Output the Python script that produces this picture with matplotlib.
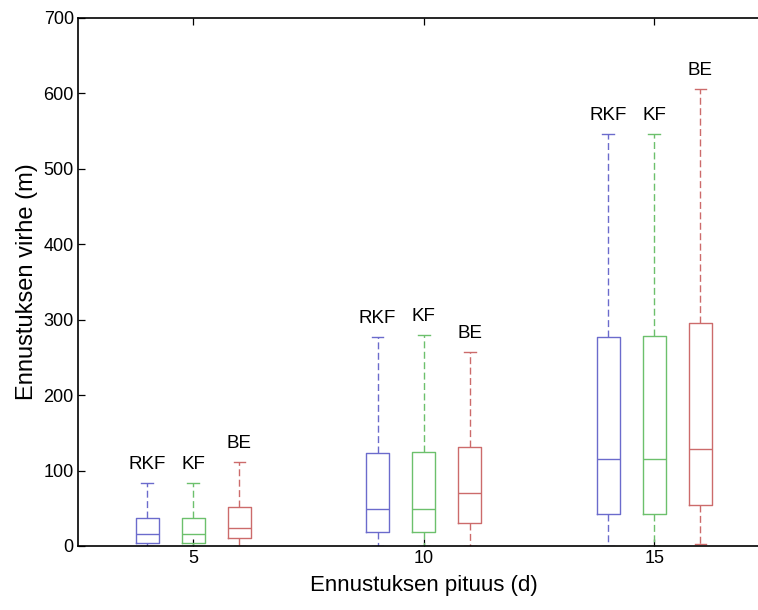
import matplotlib
matplotlib.use("Agg")
import matplotlib.pyplot as plt

plt.rcParams["font.family"] = ["Liberation Sans", "DejaVu Sans"]

# ennustuspituudet (d) ja menetelmat
horizons = [5, 10, 15]
methods = ["RKF", "KF", "BE"]
colors = ["#6b6bcc", "#6cc06c", "#cc6b6b"]
offsets = [-1, 0, 1]

# laatikkokuvion tunnusluvut: rivi = menetelma, sarake = ennustuspituus
whislo = [[0, 0, 0], [0, 0, 0], [0, 0, 3]]
q1 = [[4, 18, 43], [4, 18, 43], [10, 31, 54]]
med = [[15.5, 49, 116], [15.5, 48.6, 116], [23.5, 70, 128]]
q3 = [[37, 123.5, 277], [37, 124.5, 278.5], [51.5, 131, 295]]
whishi = [[84, 277.5, 546], [84, 279.5, 546], [112, 257, 606]]

fig = plt.figure(figsize=(7.58, 6.10), dpi=100)
ax = fig.add_axes([78 / 758, 64 / 610, 691.5 / 758, 528 / 610])

for m, name in enumerate(methods):
    stats = []
    pos = []
    for h, x in enumerate(horizons):
        stats.append(dict(whislo=whislo[m][h], q1=q1[m][h], med=med[m][h],
                          q3=q3[m][h], whishi=whishi[m][h], fliers=[]))
        pos.append(x + offsets[m])
    c = colors[m]
    ax.bxp(stats, positions=pos, widths=0.5, showfliers=False,
           boxprops=dict(color=c, lw=1),
           medianprops=dict(color=c, lw=1),
           whiskerprops=dict(color=c, lw=1, ls=(0, (5, 2.5))),
           capprops=dict(color=c, lw=1))
    for p, top in zip(pos, whishi[m]):
        ax.annotate(name, (p, top), xytext=(0, 7), textcoords="offset points",
                    ha="center", va="bottom", fontsize=13.5)

ax.set_xlim(2.5, 17.5)
ax.set_ylim(0, 700)
ax.set_xticks(horizons)
ax.set_xticklabels([str(h) for h in horizons])
ax.set_yticks(range(0, 701, 100))
ax.tick_params(direction="in", length=5, labelsize=13, top=True, right=False,
               width=0.9, pad=3)
ax.spines["right"].set_visible(False)
for s in ax.spines.values():
    s.set_linewidth(1.2)
ax.set_xlabel("Ennustuksen pituus (d)", fontsize=16, labelpad=6)
ax.set_ylabel("Ennustuksen virhe (m)", fontsize=17, labelpad=4)

fig.savefig("out.png", dpi=100)
